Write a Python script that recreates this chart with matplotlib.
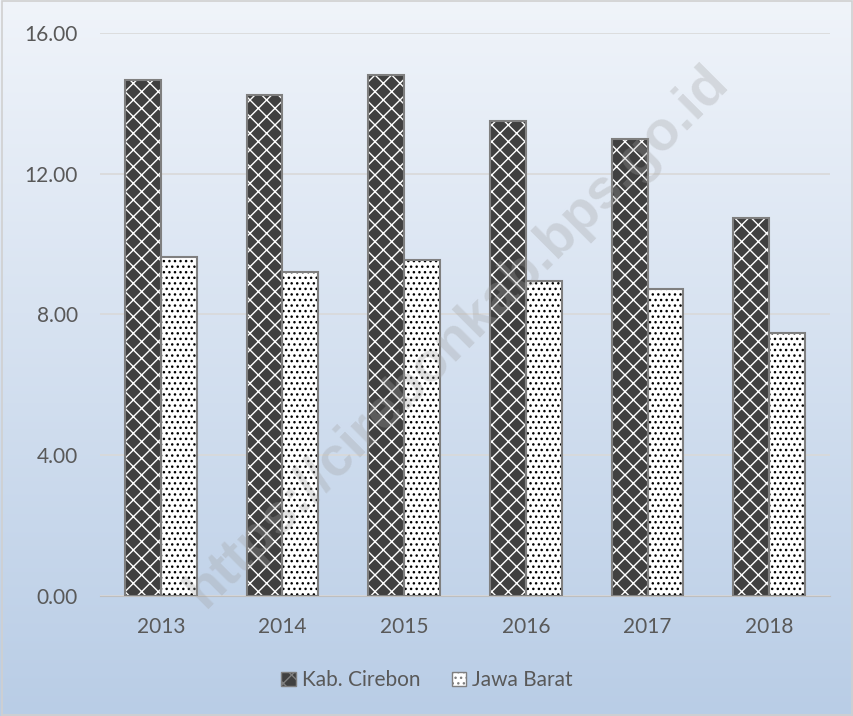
import numpy as np
import matplotlib.pyplot as plt
from matplotlib.colors import LinearSegmentedColormap
from matplotlib.patches import Patch

years = ["2013", "2014", "2015", "2016", "2017", "2018"]
cirebon = [14.66, 14.24, 14.81, 13.50, 12.99, 10.74]
jabar = [9.63, 9.21, 9.55, 8.95, 8.72, 7.47]
yticks = [0, 4, 8, 12, 16]

plt.rcParams['font.family'] = ['Lato', 'DejaVu Sans']
plt.rcParams['hatch.linewidth'] = 1.0

fig = plt.figure(figsize=(8.54, 7.16), dpi=100)

# gradient background over whole figure
bg = fig.add_axes([0, 0, 1, 1], zorder=-10)
grad = np.linspace(0, 1, 256).reshape(-1, 1)
cmap = LinearSegmentedColormap.from_list("bg", ["#f0f4fa", "#b9cde6"])
bg.imshow(grad, aspect="auto", cmap=cmap, extent=[0, 1, 0, 1], origin="upper")
bg.set_xlim(0, 1)
bg.set_ylim(0, 1)
bg.axis("off")
fig.patches.append(plt.Rectangle((0.002, 0.002), 0.996, 0.996, transform=fig.transFigure,
                                 fill=False, edgecolor="#d0d0d0", linewidth=1.2))

ax = fig.add_axes([0.117, 0.1676, 0.855, 0.7864])
ax.set_facecolor("none")

x = np.arange(len(years))
w = 0.295

# dark bars with white hatch, then gray outline
ax.bar(x - w / 2, cirebon, w, color="#404040", edgecolor="white", hatch="xx", linewidth=0, zorder=3)
ax.bar(x - w / 2, cirebon, w, fill=False, edgecolor="#7f7f7f", linewidth=1.5, zorder=4)
ax.bar(x + w / 2, jabar, w, color="white", edgecolor="black", hatch="...", linewidth=0, zorder=3)
ax.bar(x + w / 2, jabar, w, fill=False, edgecolor="#7f7f7f", linewidth=1.5, zorder=4)

ax.set_xlim(-0.5, len(years) - 0.5)
ax.set_ylim(0, 16)
ax.set_yticks(yticks)
ax.set_yticklabels([f"{v:.2f}" for v in yticks])
ax.set_xticks(x)
ax.set_xticklabels(years)
ax.tick_params(length=0, labelsize=15, labelcolor="#595959")
ax.tick_params(axis="x", pad=15)
ax.tick_params(axis="y", pad=16)
for s in ["top", "right", "left"]:
    ax.spines[s].set_visible(False)
ax.spines["bottom"].set_color("#bfbfbf")
ax.yaxis.grid(True, color="#d9d9d9", linewidth=1.2, zorder=0)
ax.set_axisbelow(True)

# legend
h1 = Patch(facecolor="#404040", edgecolor="#7f7f7f", hatch="xx", linewidth=1)
h2 = Patch(facecolor="white", edgecolor="#7f7f7f", hatch="...", linewidth=1)
fig.legend([h1, h2], ["Kab. Cirebon", "Jawa Barat"], loc="center", bbox_to_anchor=(0.5, 0.05),
           ncol=2, frameon=False, fontsize=15, labelcolor="#595959",
           handlelength=0.7, handleheight=0.7, handletextpad=0.3, columnspacing=1.5)

# watermark
fig.text(0.536, 0.53, "https://cirebonkab.bps.go.id", fontsize=40, fontweight="bold",
         family=["Liberation Sans", "DejaVu Sans"],
         color="#a0a0a0", alpha=0.3, rotation=45, ha="center", va="center", zorder=10)

fig.savefig("out.png", dpi=100)
